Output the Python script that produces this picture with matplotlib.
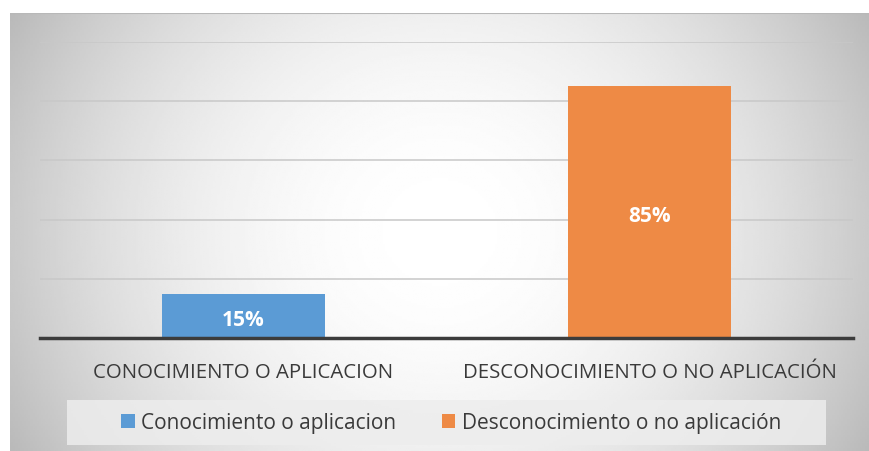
import numpy as np
import matplotlib.pyplot as plt
from matplotlib.patches import Rectangle, Patch

# Data
categories = ['CONOCIMIENTO O APLICACION', 'DESCONOCIMIENTO O NO APLICACIÓN']
legend_labels = ['Conocimiento o aplicacion', 'Desconocimiento o no aplicación']
values = [15, 85]
colors = ['#5B9BD5', '#EE8A45']

plt.rcParams['font.family'] = ['Open Sans', 'DejaVu Sans']

W, H = 870, 452
fig = plt.figure(figsize=(W / 100, H / 100), dpi=100)
fig.patch.set_facecolor('white')

# Gradient background of the chart area
bg = fig.add_axes([10 / W, 0, (W - 10) / W, (H - 14) / H])
gx = np.linspace(-1, 1, 400)
gy = np.linspace(-1, 1, 200)
X, Y = np.meshgrid(gx, gy)
shade = 1 - 0.21 * (X ** 2 + 0.3 * Y ** 2)
bg.imshow(shade, cmap='gray', vmin=0, vmax=1, aspect='auto',
          extent=[0, 1, 0, 1], interpolation='bilinear')
bg.set_xlim(0, 1)
bg.set_ylim(0, 1)
bg.axis('off')
bg.axhline(1, color='#b8b8b8', lw=1.5)

# Main plot
ax = fig.add_axes([40 / W, (H - 339) / H, (853 - 40) / W, (339 - 43) / H])
ax.patch.set_alpha(0)
x = np.arange(len(categories))
bars = ax.bar(x, values, width=0.4, color=colors, zorder=3)
ax.set_xlim(-0.5, 1.5)
ax.set_ylim(0, 100)
ax.set_yticks(np.arange(0, 101, 20))
ax.yaxis.grid(True, color='#c8c8c8', lw=1.1, zorder=0)
ax.tick_params(axis='y', left=False, labelleft=False)
ax.tick_params(axis='x', length=0, pad=17, labelsize=14.7, labelcolor='#3a3a3a')
ax.set_xticks(x)
ax.set_xticklabels(categories)
for s in ['top', 'right', 'left']:
    ax.spines[s].set_visible(False)
ax.spines['bottom'].set_color('#3c3c3c')
ax.spines['bottom'].set_linewidth(2.5)
ax.spines['bottom'].set_zorder(4)

for b, v in zip(bars, values):
    ax.text(b.get_x() + b.get_width() / 2, b.get_height() / 2 - 1.2, f'{v}%',
            ha='center', va='center', color='white', fontsize=15,
            fontweight='bold', zorder=5)

# Legend box
fig.patches.append(Rectangle((67 / W, (H - 446) / H), (826 - 67) / W, 45 / H,
                             transform=fig.transFigure, facecolor='#ededed',
                             edgecolor='none', alpha=0.85, zorder=1))
handles = [Patch(facecolor=c) for c in colors]
fig.legend(handles, legend_labels, loc='center', ncol=2, frameon=False,
           bbox_to_anchor=(451 / W, (H - 424) / H), fontsize=15,
           handlelength=0.65, handleheight=0.65, handletextpad=0.3,
           columnspacing=2.2, labelcolor='#3a3a3a')

fig.savefig('out.png', dpi=100)
